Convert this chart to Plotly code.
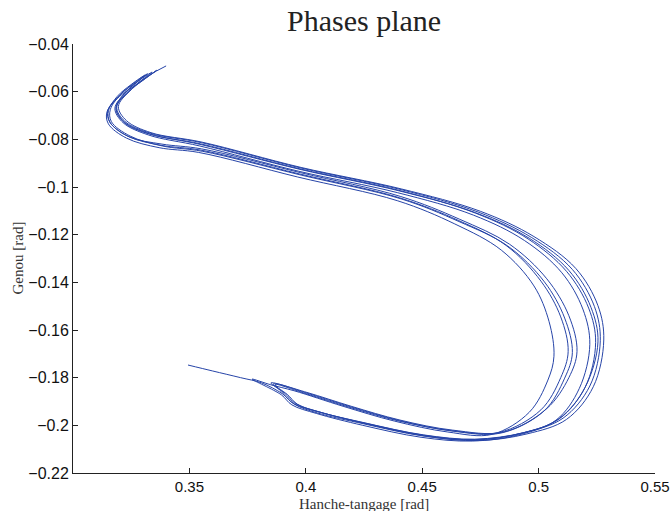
import plotly.graph_objects as go

# ---- data (Hanche-tangage vs Genou, rad) ----
hanche_start = [0.3494, 0.3600, 0.3720, 0.3810]
genou_start = [-0.1747, -0.1772, -0.1800, -0.1822]

hanche_r1 = [0.3900, 0.3950, 0.4060, 0.4260, 0.4510, 0.4730, 0.4930, 0.5090, 0.5200, 0.5255, 0.5225, 0.5130, 0.4960, 0.4730, 0.4400, 0.3975, 0.3550, 0.3330, 0.3220, 0.3185, 0.3230, 0.3320]
genou_r1 = [-0.1868, -0.1910, -0.1945, -0.1992, -0.2042, -0.2060, -0.2032, -0.1972, -0.1840, -0.1650, -0.1505, -0.1350, -0.1215, -0.1108, -0.1016, -0.0926, -0.0822, -0.0777, -0.0727, -0.0667, -0.0598, -0.0525]

hanche_o1 = [0.3260, 0.3200, 0.3150, 0.3158, 0.3238, 0.3378, 0.3548, 0.3972, 0.4402, 0.4655, 0.4860, 0.5010, 0.5095, 0.5127, 0.5095, 0.5010, 0.4830, 0.4625, 0.4400, 0.4190, 0.4000, 0.3860]
genou_o1 = [-0.0565, -0.0615, -0.0678, -0.0728, -0.0788, -0.0825, -0.0845, -0.0945, -0.1045, -0.1140, -0.1245, -0.1395, -0.1545, -0.1690, -0.1800, -0.1935, -0.2030, -0.2022, -0.1982, -0.1925, -0.1867, -0.1826]

hanche_r2 = [0.3920, 0.3965, 0.4070, 0.4270, 0.4520, 0.4740, 0.4950, 0.5120, 0.5235, 0.5280, 0.5255, 0.5160, 0.4980, 0.4750, 0.4410, 0.3980, 0.3555, 0.3335, 0.3230, 0.3195, 0.3250, 0.3360]
genou_r2 = [-0.1870, -0.1912, -0.1947, -0.1996, -0.2046, -0.2064, -0.2036, -0.1975, -0.1838, -0.1642, -0.1498, -0.1342, -0.1208, -0.1102, -0.1008, -0.0918, -0.0812, -0.0772, -0.0722, -0.0662, -0.0592, -0.0510]

hanche_o2 = [0.3290, 0.3200, 0.3146, 0.3152, 0.3230, 0.3370, 0.3540, 0.3965, 0.4395, 0.4640, 0.4840, 0.4980, 0.5045, 0.5066, 0.5040, 0.4960, 0.4800, 0.4610, 0.4380, 0.4160, 0.3950, 0.3850, 0.3769]
genou_o2 = [-0.0560, -0.0620, -0.0685, -0.0735, -0.0795, -0.0835, -0.0855, -0.0958, -0.1058, -0.1155, -0.1265, -0.1415, -0.1565, -0.1710, -0.1810, -0.1945, -0.2038, -0.2028, -0.1982, -0.1920, -0.1855, -0.1830, -0.1806]

hanche_r3 = [0.3895, 0.3940, 0.4045, 0.4245, 0.4495, 0.4715, 0.4915, 0.5075, 0.5175, 0.5220, 0.5190, 0.5100, 0.4940, 0.4720, 0.4395, 0.3970, 0.3545, 0.3325, 0.3215, 0.3180, 0.3225, 0.3310]
genou_r3 = [-0.1872, -0.1914, -0.1950, -0.2000, -0.2050, -0.2066, -0.2040, -0.1978, -0.1845, -0.1660, -0.1512, -0.1360, -0.1225, -0.1118, -0.1024, -0.0934, -0.0828, -0.0782, -0.0730, -0.0670, -0.0605, -0.0530]

hanche_o3 = [0.3250, 0.3190, 0.3152, 0.3160, 0.3242, 0.3382, 0.3552, 0.3978, 0.4408, 0.4660, 0.4875, 0.5035, 0.5130, 0.5165, 0.5130, 0.5035, 0.4850, 0.4630, 0.4405, 0.4195, 0.4005, 0.3850]
genou_o3 = [-0.0570, -0.0620, -0.0680, -0.0730, -0.0790, -0.0820, -0.0840, -0.0940, -0.1040, -0.1135, -0.1240, -0.1385, -0.1540, -0.1690, -0.1800, -0.1930, -0.2028, -0.2020, -0.1978, -0.1920, -0.1862, -0.1822]

hanche_r4 = [0.3910, 0.3955, 0.4055, 0.4255, 0.4505, 0.4725, 0.4940, 0.5105, 0.5220, 0.5265, 0.5240, 0.5145, 0.4970, 0.4740, 0.4405, 0.3978, 0.3552, 0.3332, 0.3222, 0.3188, 0.3240, 0.3340]
genou_r4 = [-0.1866, -0.1908, -0.1943, -0.1990, -0.2040, -0.2058, -0.2030, -0.1970, -0.1835, -0.1645, -0.1502, -0.1346, -0.1212, -0.1105, -0.1010, -0.0920, -0.0814, -0.0774, -0.0724, -0.0664, -0.0596, -0.0518]

hanche_o4 = [0.3280, 0.3205, 0.3160, 0.3165, 0.3245, 0.3385, 0.3555, 0.3980, 0.4410, 0.4658, 0.4868, 0.5025, 0.5112, 0.5145, 0.5112, 0.5025, 0.4840, 0.4628, 0.4402, 0.4192, 0.4002, 0.3870]
genou_o4 = [-0.0555, -0.0612, -0.0676, -0.0726, -0.0786, -0.0828, -0.0850, -0.0950, -0.1050, -0.1145, -0.1248, -0.1398, -0.1550, -0.1695, -0.1802, -0.1938, -0.2032, -0.2024, -0.1980, -0.1922, -0.1864, -0.1828]

hanche_r5 = [0.3905, 0.3950, 0.4050, 0.4250, 0.4500, 0.4720, 0.4925, 0.5085, 0.5200, 0.5245, 0.5215, 0.5120, 0.4955, 0.4730, 0.4400, 0.3975, 0.3548, 0.3328, 0.3218, 0.3185, 0.3250, 0.3330, 0.3400]
genou_r5 = [-0.1869, -0.1911, -0.1948, -0.1994, -0.2044, -0.2062, -0.2034, -0.1974, -0.1840, -0.1652, -0.1508, -0.1354, -0.1218, -0.1110, -0.1014, -0.0924, -0.0819, -0.0778, -0.0728, -0.0668, -0.0590, -0.0530, -0.0492]

x_tickvals = [0.35, 0.40, 0.45, 0.50, 0.55]
x_ticktext = ["0.35", "0.4", "0.45", "0.5", "0.55"]
y_tickvals = [-0.04, -0.06, -0.08, -0.10, -0.12, -0.14, -0.16, -0.18, -0.20, -0.22]
y_ticktext = ["\u22120.04", "\u22120.06", "\u22120.08", "\u22120.1", "\u22120.12",
              "\u22120.14", "\u22120.16", "\u22120.18", "\u22120.2", "\u22120.22"]

hanche = (hanche_start + hanche_r1 + hanche_o1 + hanche_r2 + hanche_o2 + hanche_r3
          + hanche_o3 + hanche_r4 + hanche_o4 + hanche_r5)
genou = (genou_start + genou_r1 + genou_o1 + genou_r2 + genou_o2 + genou_r3
         + genou_o3 + genou_r4 + genou_o4 + genou_r5)

fig = go.Figure()
fig.add_trace(go.Scatter(
    x=hanche, y=genou, mode="lines",
    line=dict(color="rgb(38,68,168)", width=1, shape="spline", smoothing=1.0),
    hoverinfo="skip", showlegend=False,
))

serif = "Liberation Serif, DejaVu Serif, serif"
sans = "Liberation Sans, Arial, Helvetica, sans-serif"

fig.update_layout(
    template="none",
    width=671, height=511,
    margin=dict(l=73, r=16, t=44, b=38, autoexpand=False),
    paper_bgcolor="white", plot_bgcolor="white",
    showlegend=False,
    annotations=[
        dict(text="Phases plane", xref="paper", yref="paper", x=0.5, y=1,
             xanchor="center", yanchor="middle", yshift=24, showarrow=False,
             font=dict(family=serif, size=30, color="#222")),
        dict(text="Hanche-tangage [rad]", xref="paper", yref="paper", x=0.5, y=0,
             xanchor="center", yanchor="middle", yshift=-31, showarrow=False,
             font=dict(family=serif, size=15, color="#333")),
        dict(text="Genou [rad]", xref="paper", yref="paper", x=0, y=0.5,
             xanchor="center", yanchor="middle", xshift=-56, textangle=-90,
             showarrow=False, font=dict(family=serif, size=15, color="#333")),
    ],
)
fig.update_xaxes(
    range=[0.30, 0.55], tickvals=x_tickvals, ticktext=x_ticktext, automargin=False,
    showgrid=False, zeroline=False, showline=True, linecolor="#222", linewidth=1,
    ticks="inside", ticklen=5, tickcolor="#222", tickwidth=1,
    tickfont=dict(family=sans, size=15, color="#111"), mirror=False,
)
fig.update_yaxes(
    range=[-0.22, -0.04], tickvals=y_tickvals, ticktext=y_ticktext, automargin=False,
    showgrid=False, zeroline=False, showline=True, linecolor="#222", linewidth=1,
    ticks="inside", ticklen=5, tickcolor="#222", tickwidth=1,
    tickfont=dict(family=sans, size=16, color="#111"), mirror=False,
)

fig.write_html(
    "out.html",
    config={"displayModeBar": False, "staticPlot": True},
    post_script="document.body.style.margin='0';document.body.style.overflow='hidden';",
)
